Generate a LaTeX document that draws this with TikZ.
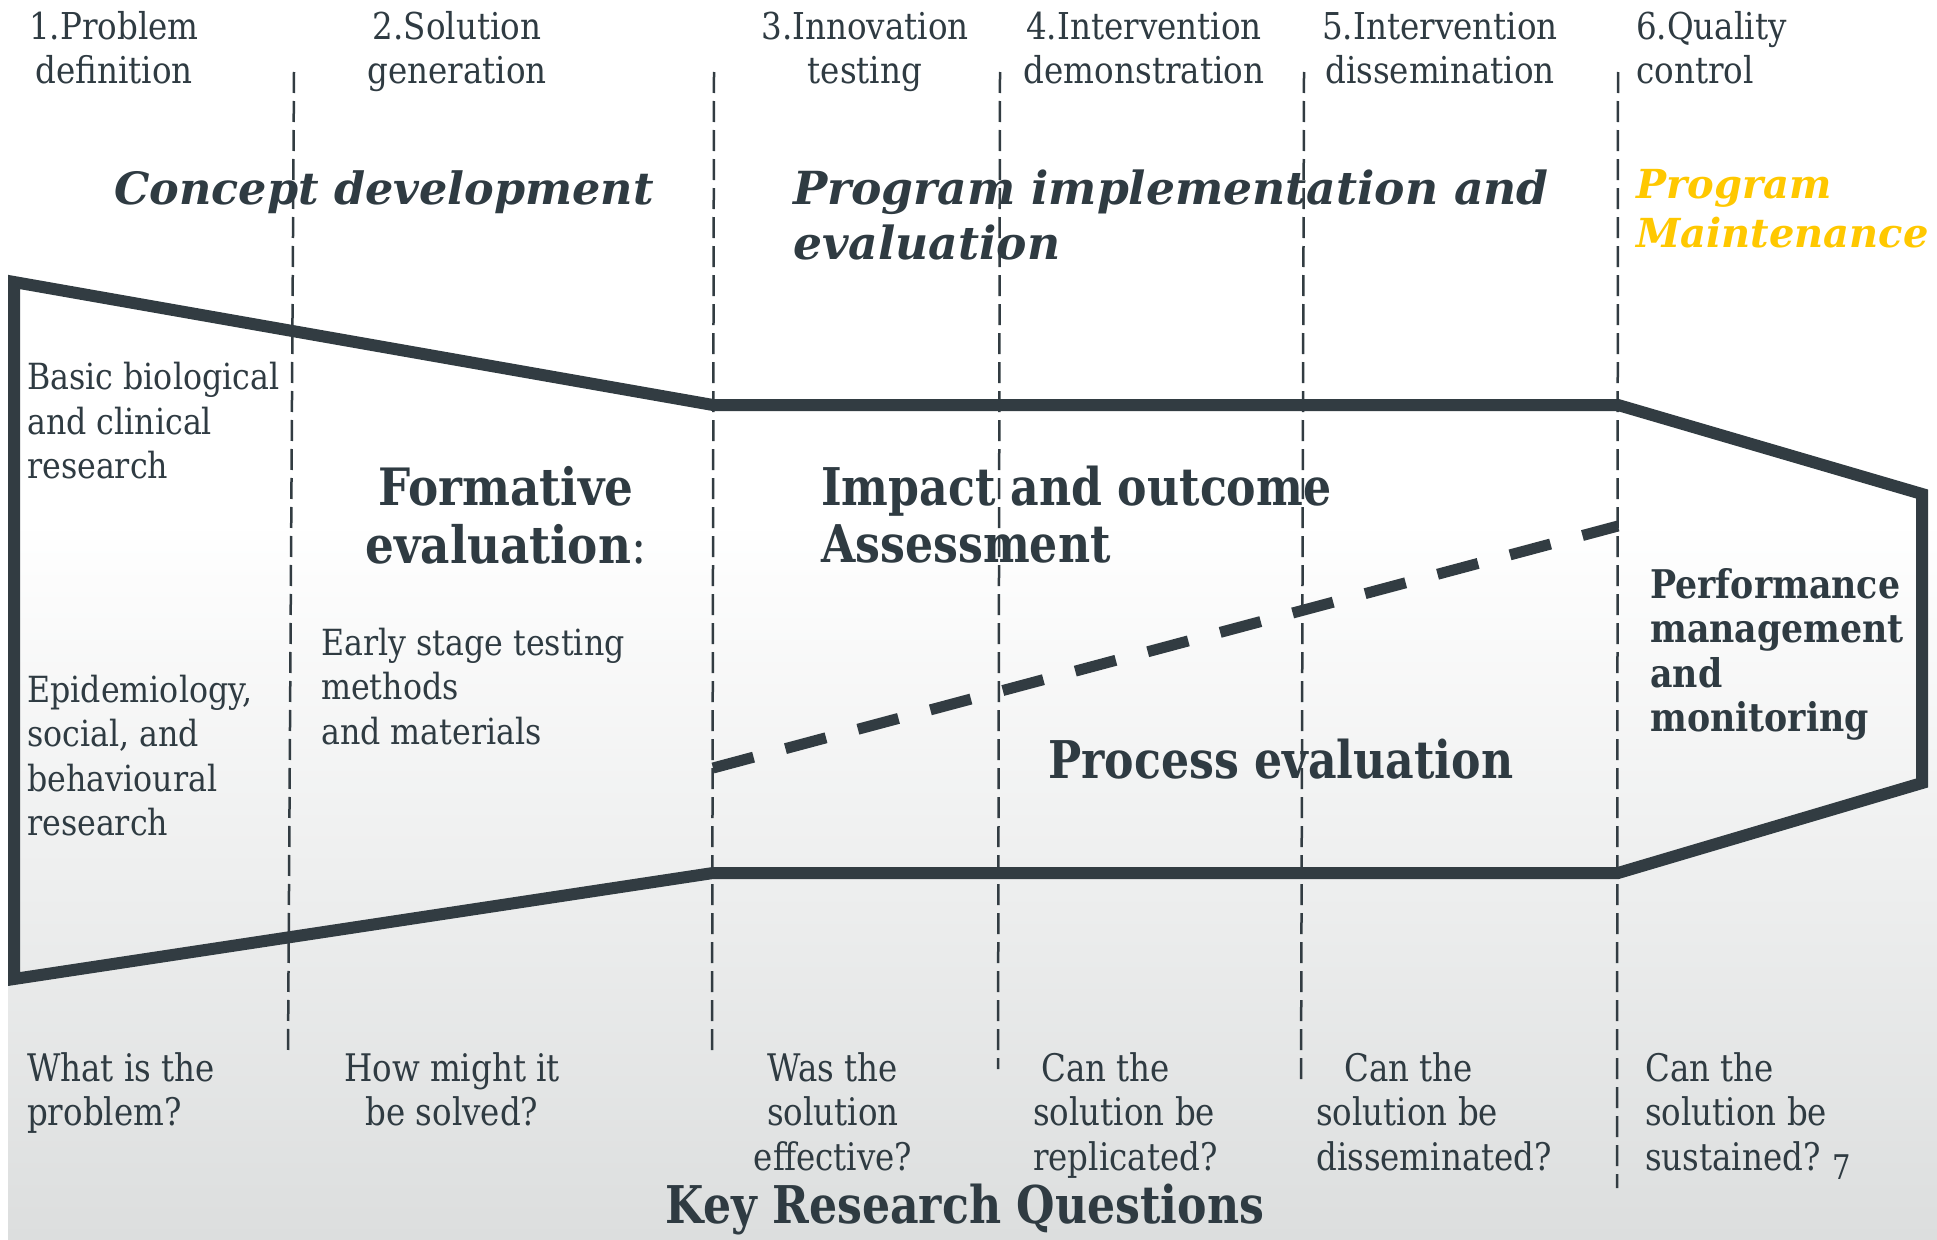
\documentclass[tikz,border=0pt]{standalone}
\usepackage{fontspec}
\setmainfont{DejaVu Serif}
\newfontfamily\fA[FakeStretch=0.88]{DejaVu Serif}
\newfontfamily\fB{DejaVu Serif}
\newfontfamily\fC[FakeStretch=0.85]{DejaVu Serif}
\newfontfamily\fQ[FakeStretch=0.855]{DejaVu Serif}
\definecolor{ink}{RGB}{47,59,66}
\definecolor{lineink}{RGB}{50,60,66}
\definecolor{goldc}{RGB}{255,200,0}
\definecolor{bggrey}{RGB}{220,222,222}
\tikzset{
  txt/.style={inner sep=0pt, text=ink},
  lab/.style={txt, anchor=base, font=\fA\fontsize{37}{44}\selectfont},
  labl/.style={lab, anchor=base west},
  head/.style={txt, anchor=base west, font=\fB\bfseries\itshape\fontsize{45.6}{55}\selectfont},
  headsm/.style={head, font=\fB\bfseries\itshape\fontsize{44.5}{55}\selectfont},
  maint/.style={head, text=goldc, font=\fB\bfseries\itshape\fontsize{40}{50}\selectfont},
  body/.style={txt, anchor=base west, font=\fA\fontsize{36}{44}\selectfont},
  bodyb/.style={txt, anchor=base west, font=\fA\bfseries\fontsize{39.5}{44}\selectfont},
  big/.style={txt, anchor=base, font=\fA\bfseries\fontsize{51.5}{58}\selectfont},
  cond/.style={txt, anchor=base west, font=\fC\bfseries\fontsize{52}{57}\selectfont},
  condc/.style={cond, anchor=base},
  ques/.style={txt, anchor=base west, font=\fQ\fontsize{38}{44}\selectfont},
  quesc/.style={ques, anchor=base},
  frameline/.style={draw=lineink, line width=12pt, line join=miter},
  dashline/.style={draw=lineink, line width=11pt, dash pattern=on 42pt off 33pt},
  sepline/.style={draw=lineink, line width=2.5pt, dash pattern=on 21pt off 8pt},
}
\begin{document}
\begin{tikzpicture}[x=1pt,y=-1pt]
\useasboundingbox (0,0) rectangle (1937,1239);
\fill[white] (0,0) rectangle (1937,1239);
\shade[top color=white, bottom color=bggrey] (8,520) rectangle (1937,1239);

% outline
\coordinate (p1) at (14,282);
\coordinate (p2) at (713,405);
\coordinate (p3) at (1618,405);
\coordinate (p4) at (1922,494);
\coordinate (p5) at (1922,783);
\coordinate (p6) at (1618,873);
\coordinate (p7) at (713,873);
\coordinate (p8) at (14,979);
\begin{scope}
\clip (8,0) rectangle (1928,1239);
\draw[frameline] (p1) -- (p2) -- (p3) -- (p4) -- (p5) -- (p6) -- (p7) -- (p8) -- cycle;
\end{scope}

% dashed divider between impact and process
\coordinate (d1) at (713,768);
\coordinate (d2) at (1618,526);
\draw[dashline] (d1) -- (d2);

% vertical stage separators
\coordinate (s1t) at (294,72);   \coordinate (s1b) at (288,1054);
\coordinate (s2t) at (714,72);   \coordinate (s2b) at (712,1056);
\coordinate (s3t) at (1000,72);  \coordinate (s3b) at (998,1069);
\coordinate (s4t) at (1304,72);  \coordinate (s4b) at (1301,1085);
\coordinate (s5t) at (1618,72);  \coordinate (s5b) at (1617,1188);
\draw[sepline] (s1t) -- (s1b);
\draw[sepline] (s2t) -- (s2b);
\draw[sepline] (s3t) -- (s3b);
\draw[sepline] (s4t) -- (s4b);
\draw[sepline] (s5t) -- (s5b);

% stage labels
\node[lab] (l1a) at (114,40) {1.Problem};
\node[lab] (l1b) at (114,84) {definition};
\node[lab] (l2a) at (457,40) {2.Solution};
\node[lab] (l2b) at (457,84) {generation};
\node[lab] (l3a) at (865,40) {3.Innovation};
\node[lab] (l3b) at (865,84) {testing};
\node[lab] (l4a) at (1144,40) {4.Intervention};
\node[lab] (l4b) at (1144,84) {demonstration};
\node[lab] (l5a) at (1440,40) {5.Intervention};
\node[lab] (l5b) at (1440,84) {dissemination};
\node[labl] (l6a) at (1636,40) {6.Quality};
\node[labl] (l6b) at (1636,84) {control};

% phase headings
\node[headsm] (h1) at (114,204) {Concept development};
\node[head] (h2a) at (793,204) {Program implementation and};
\node[head] (h2b) at (793,259) {evaluation};
\node[maint] (h3a) at (1636,198) {Program};
\node[maint] (h3b) at (1636,247) {Maintenance};

% left column
\node[body] (b1) at (27,389) {Basic biological};
\node[body] (b2) at (27,434) {and clinical};
\node[body] (b3) at (27,478) {research};
\node[body] (e1) at (27,702) {Epidemiology,};
\node[body] (e2) at (27,746) {social, and};
\node[body] (e3) at (27,791) {behavioural};
\node[body] (e4) at (27,835) {research};

% formative evaluation
\node[big] (f1) at (506,505) {Formative};
\node[big] (f2) at (506,563) {evaluation{\mdseries:}};
\node[body] (f3) at (321,655) {Early stage testing};
\node[body] (f4) at (321,699) {methods};
\node[body] (f5) at (321,744) {and materials};

% impact / process
\node[cond] (i1) at (821,505) {Impact and outcome};
\node[cond] (i2) at (821,562) {Assessment};
\node[cond] (pe) at (1048,778) {Process evaluation};

% performance
\node[bodyb] (m1) at (1650,598) {Performance};
\node[bodyb] (m2) at (1650,642) {management};
\node[bodyb] (m3) at (1650,687) {and};
\node[bodyb] (m4) at (1650,731) {monitoring};

% key research questions
\node[ques] (q1a) at (27,1081) {What is the};
\node[ques] (q1b) at (27,1125) {problem?};
\node[quesc] (q2a) at (452,1081) {How might it};
\node[quesc] (q2b) at (452,1125) {be solved?};
\node[quesc] (q3a) at (833,1081) {Was the};
\node[quesc] (q3b) at (833,1125) {solution};
\node[quesc] (q3c) at (833,1170) {effective?};
\node[ques] (q4a) at (1041,1081) {Can the};
\node[ques] (q4b) at (1033,1125) {solution be};
\node[ques] (q4c) at (1033,1170) {replicated?};
\node[ques] (q5a) at (1344,1081) {Can the};
\node[ques] (q5b) at (1316,1125) {solution be};
\node[ques] (q5c) at (1316,1170) {disseminated?};
\node[ques] (q6a) at (1645,1081) {Can the};
\node[ques] (q6b) at (1645,1125) {solution be};
\node[ques] (q6c) at (1645,1170) {sustained?\hspace{12pt}{\fontsize{34}{34}\selectfont\raisebox{-9pt}{7}}};
\node[condc] (kq) at (965,1223) {Key Research Questions};
\end{tikzpicture}
\end{document}
